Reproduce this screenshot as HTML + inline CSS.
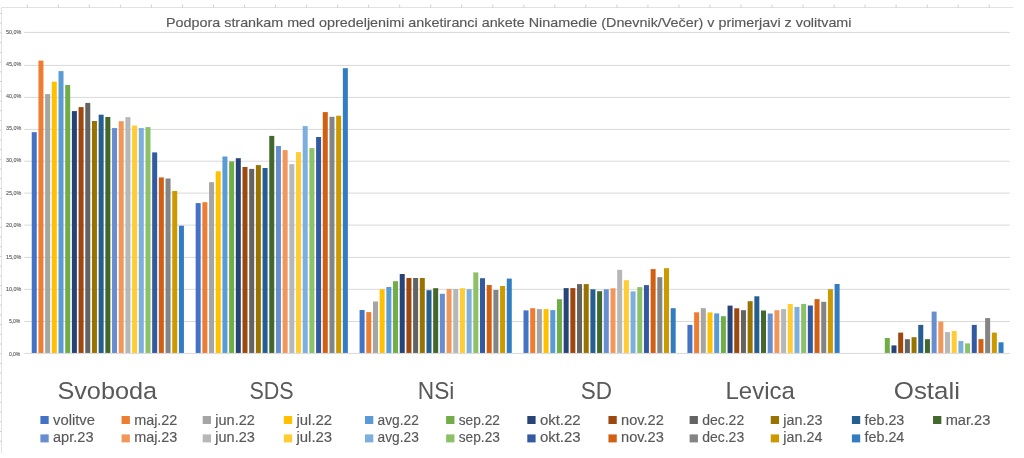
<!DOCTYPE html><html><head><meta charset="utf-8"><title>Podpora strankam</title><style>html,body{margin:0;padding:0;background:#fff;width:1024px;height:458px;overflow:hidden}svg{display:block;will-change:transform}text{font-family:"Liberation Sans",Arial,sans-serif}</style></head><body>
<svg width="1024" height="458" viewBox="0 0 1024 458">
<rect width="1024" height="458" fill="#fff"/>
<path d="M1.5 453V7.5H1013" fill="none" stroke="#e2e2e2" stroke-width="1"/>
<path d="M27.3 4.6V7.5M58.3 4.6V7.5M89.4 4.6V7.5M120.4 4.6V7.5M151.4 4.6V7.5M182.5 4.6V7.5M213.5 4.6V7.5M244.5 4.6V7.5M275.5 4.6V7.5M306.6 4.6V7.5M337.6 4.6V7.5M368.6 4.6V7.5M399.7 4.6V7.5M430.7 4.6V7.5M461.7 4.6V7.5M492.8 4.6V7.5M523.8 4.6V7.5M554.8 4.6V7.5M585.8 4.6V7.5M616.9 4.6V7.5M647.9 4.6V7.5M678.9 4.6V7.5M710.0 4.6V7.5M741.0 4.6V7.5M772.0 4.6V7.5M803.0 4.6V7.5M834.1 4.6V7.5M865.1 4.6V7.5M896.1 4.6V7.5M927.2 4.6V7.5M958.2 4.6V7.5M989.2 4.6V7.5" fill="none" stroke="#c4c4c4" stroke-width="0.8"/>
<path d="M0 13.5H1.5M0 23.2H1.5M0 32.9H1.5M0 42.7H1.5M0 52.4H1.5M0 62.1H1.5M0 71.8H1.5M0 81.5H1.5M0 91.3H1.5M0 101.0H1.5M0 110.7H1.5M0 120.4H1.5M0 130.1H1.5M0 139.9H1.5M0 149.6H1.5M0 159.3H1.5M0 169.0H1.5M0 178.7H1.5M0 188.5H1.5M0 198.2H1.5M0 207.9H1.5M0 217.6H1.5M0 227.3H1.5M0 237.1H1.5M0 246.8H1.5M0 256.5H1.5M0 266.2H1.5M0 275.9H1.5M0 285.7H1.5M0 295.4H1.5M0 305.1H1.5M0 314.8H1.5M0 324.5H1.5M0 334.3H1.5M0 344.0H1.5M0 353.7H1.5M0 363.4H1.5M0 373.1H1.5M0 382.9H1.5M0 392.6H1.5M0 402.3H1.5M0 412.0H1.5M0 421.7H1.5M0 431.5H1.5M0 441.2H1.5" fill="none" stroke="#c8c8c8" stroke-width="0.8"/>
<rect x="24.2" y="352.90" width="985.6" height="1" fill="#d9d9d9"/>
<rect x="24.2" y="321.00" width="985.6" height="1" fill="#d9d9d9"/>
<rect x="24.2" y="288.80" width="985.6" height="1" fill="#d9d9d9"/>
<rect x="24.2" y="256.90" width="985.6" height="1" fill="#d9d9d9"/>
<rect x="24.2" y="224.60" width="985.6" height="1" fill="#d9d9d9"/>
<rect x="24.2" y="192.60" width="985.6" height="1" fill="#d9d9d9"/>
<rect x="24.2" y="160.70" width="985.6" height="1" fill="#d9d9d9"/>
<rect x="24.2" y="128.90" width="985.6" height="1" fill="#d9d9d9"/>
<rect x="24.2" y="96.90" width="985.6" height="1" fill="#d9d9d9"/>
<rect x="24.2" y="64.90" width="985.6" height="1" fill="#d9d9d9"/>
<rect x="24.2" y="31.90" width="985.6" height="1" fill="#d9d9d9"/>
<text x="20.3" y="355.50" font-size="6.2" fill="#595959" stroke="#595959" stroke-width="0.12" text-anchor="end" textLength="11.4" lengthAdjust="spacingAndGlyphs">0,0%</text>
<text x="20.3" y="323.30" font-size="6.2" fill="#595959" stroke="#595959" stroke-width="0.12" text-anchor="end" textLength="11.4" lengthAdjust="spacingAndGlyphs">5,0%</text>
<text x="21.2" y="291.10" font-size="6.2" fill="#595959" stroke="#595959" stroke-width="0.12" text-anchor="end" textLength="15.3" lengthAdjust="spacingAndGlyphs">10,0%</text>
<text x="21.2" y="258.90" font-size="6.2" fill="#595959" stroke="#595959" stroke-width="0.12" text-anchor="end" textLength="15.3" lengthAdjust="spacingAndGlyphs">15,0%</text>
<text x="21.2" y="226.70" font-size="6.2" fill="#595959" stroke="#595959" stroke-width="0.12" text-anchor="end" textLength="15.3" lengthAdjust="spacingAndGlyphs">20,0%</text>
<text x="21.2" y="194.50" font-size="6.2" fill="#595959" stroke="#595959" stroke-width="0.12" text-anchor="end" textLength="15.3" lengthAdjust="spacingAndGlyphs">25,0%</text>
<text x="21.2" y="162.30" font-size="6.2" fill="#595959" stroke="#595959" stroke-width="0.12" text-anchor="end" textLength="15.3" lengthAdjust="spacingAndGlyphs">30,0%</text>
<text x="21.2" y="130.10" font-size="6.2" fill="#595959" stroke="#595959" stroke-width="0.12" text-anchor="end" textLength="15.3" lengthAdjust="spacingAndGlyphs">35,0%</text>
<text x="21.2" y="97.90" font-size="6.2" fill="#595959" stroke="#595959" stroke-width="0.12" text-anchor="end" textLength="15.3" lengthAdjust="spacingAndGlyphs">40,0%</text>
<text x="21.2" y="65.70" font-size="6.2" fill="#595959" stroke="#595959" stroke-width="0.12" text-anchor="end" textLength="15.3" lengthAdjust="spacingAndGlyphs">45,0%</text>
<text x="21.2" y="33.50" font-size="6.2" fill="#595959" stroke="#595959" stroke-width="0.12" text-anchor="end" textLength="15.3" lengthAdjust="spacingAndGlyphs">50,0%</text>
<rect x="31.75" y="132.20" width="5.00" height="220.75" fill="#4472C4"/>
<rect x="38.44" y="60.60" width="5.00" height="292.35" fill="#ED7D31"/>
<rect x="45.13" y="94.10" width="5.00" height="258.85" fill="#A5A5A5"/>
<rect x="51.82" y="81.70" width="5.00" height="271.25" fill="#FFC000"/>
<rect x="58.51" y="71.10" width="5.00" height="281.85" fill="#5B9BD5"/>
<rect x="65.20" y="85.00" width="5.00" height="267.95" fill="#70AD47"/>
<rect x="71.89" y="111.10" width="5.00" height="241.85" fill="#264478"/>
<rect x="78.58" y="107.10" width="5.00" height="245.85" fill="#9E480E"/>
<rect x="85.27" y="102.90" width="5.00" height="250.05" fill="#636363"/>
<rect x="91.96" y="121.00" width="5.00" height="231.95" fill="#997300"/>
<rect x="98.65" y="114.70" width="5.00" height="238.25" fill="#255E91"/>
<rect x="105.34" y="117.00" width="5.00" height="235.95" fill="#43682B"/>
<rect x="112.03" y="128.05" width="5.00" height="224.90" fill="#698ED0"/>
<rect x="118.72" y="121.20" width="5.00" height="231.75" fill="#F1975A"/>
<rect x="125.41" y="117.10" width="5.00" height="235.85" fill="#B7B7B7"/>
<rect x="132.10" y="125.50" width="5.00" height="227.45" fill="#FFCD33"/>
<rect x="138.79" y="128.05" width="5.00" height="224.90" fill="#7CAFDD"/>
<rect x="145.48" y="127.10" width="5.00" height="225.85" fill="#8CC168"/>
<rect x="152.17" y="152.40" width="5.00" height="200.55" fill="#335AA1"/>
<rect x="158.86" y="177.40" width="5.00" height="175.55" fill="#D26012"/>
<rect x="165.55" y="178.50" width="5.00" height="174.45" fill="#848484"/>
<rect x="172.24" y="191.00" width="5.00" height="161.95" fill="#CC9A00"/>
<rect x="178.93" y="225.70" width="5.00" height="127.25" fill="#327DC2"/>
<rect x="195.67" y="203.10" width="5.00" height="149.85" fill="#4472C4"/>
<rect x="202.36" y="202.20" width="5.00" height="150.75" fill="#ED7D31"/>
<rect x="209.05" y="182.20" width="5.00" height="170.75" fill="#A5A5A5"/>
<rect x="215.74" y="171.30" width="5.00" height="181.65" fill="#FFC000"/>
<rect x="222.43" y="156.50" width="5.00" height="196.45" fill="#5B9BD5"/>
<rect x="229.12" y="161.40" width="5.00" height="191.55" fill="#70AD47"/>
<rect x="235.81" y="158.20" width="5.00" height="194.75" fill="#264478"/>
<rect x="242.50" y="167.00" width="5.00" height="185.95" fill="#9E480E"/>
<rect x="249.19" y="168.90" width="5.00" height="184.05" fill="#636363"/>
<rect x="255.88" y="165.10" width="5.00" height="187.85" fill="#997300"/>
<rect x="262.57" y="168.00" width="5.00" height="184.95" fill="#255E91"/>
<rect x="269.26" y="135.90" width="5.00" height="217.05" fill="#43682B"/>
<rect x="275.95" y="146.00" width="5.00" height="206.95" fill="#698ED0"/>
<rect x="282.64" y="150.10" width="5.00" height="202.85" fill="#F1975A"/>
<rect x="289.33" y="164.20" width="5.00" height="188.75" fill="#B7B7B7"/>
<rect x="296.02" y="152.10" width="5.00" height="200.85" fill="#FFCD33"/>
<rect x="302.71" y="126.10" width="5.00" height="226.85" fill="#7CAFDD"/>
<rect x="309.40" y="148.10" width="5.00" height="204.85" fill="#8CC168"/>
<rect x="316.09" y="137.00" width="5.00" height="215.95" fill="#335AA1"/>
<rect x="322.78" y="112.10" width="5.00" height="240.85" fill="#D26012"/>
<rect x="329.47" y="116.80" width="5.00" height="236.15" fill="#848484"/>
<rect x="336.16" y="115.70" width="5.00" height="237.25" fill="#CC9A00"/>
<rect x="342.85" y="68.20" width="5.00" height="284.75" fill="#327DC2"/>
<rect x="359.59" y="310.00" width="5.00" height="42.95" fill="#4472C4"/>
<rect x="366.28" y="312.10" width="5.00" height="40.85" fill="#ED7D31"/>
<rect x="372.97" y="301.50" width="5.00" height="51.45" fill="#A5A5A5"/>
<rect x="379.66" y="289.20" width="5.00" height="63.75" fill="#FFC000"/>
<rect x="386.35" y="287.00" width="5.00" height="65.95" fill="#5B9BD5"/>
<rect x="393.04" y="281.20" width="5.00" height="71.75" fill="#70AD47"/>
<rect x="399.73" y="274.00" width="5.00" height="78.95" fill="#264478"/>
<rect x="406.42" y="278.00" width="5.00" height="74.95" fill="#9E480E"/>
<rect x="413.11" y="278.00" width="5.00" height="74.95" fill="#636363"/>
<rect x="419.80" y="278.00" width="5.00" height="74.95" fill="#997300"/>
<rect x="426.49" y="290.20" width="5.00" height="62.75" fill="#255E91"/>
<rect x="433.18" y="288.20" width="5.00" height="64.75" fill="#43682B"/>
<rect x="439.87" y="293.80" width="5.00" height="59.15" fill="#698ED0"/>
<rect x="446.56" y="289.00" width="5.00" height="63.95" fill="#F1975A"/>
<rect x="453.25" y="289.00" width="5.00" height="63.95" fill="#B7B7B7"/>
<rect x="459.94" y="288.20" width="5.00" height="64.75" fill="#FFCD33"/>
<rect x="466.63" y="289.20" width="5.00" height="63.75" fill="#7CAFDD"/>
<rect x="473.32" y="272.40" width="5.00" height="80.55" fill="#8CC168"/>
<rect x="480.01" y="278.20" width="5.00" height="74.75" fill="#335AA1"/>
<rect x="486.70" y="285.00" width="5.00" height="67.95" fill="#D26012"/>
<rect x="493.39" y="290.00" width="5.00" height="62.95" fill="#848484"/>
<rect x="500.08" y="286.00" width="5.00" height="66.95" fill="#CC9A00"/>
<rect x="506.77" y="278.60" width="5.00" height="74.35" fill="#327DC2"/>
<rect x="523.51" y="310.40" width="5.00" height="42.55" fill="#4472C4"/>
<rect x="530.20" y="308.20" width="5.00" height="44.75" fill="#ED7D31"/>
<rect x="536.89" y="309.10" width="5.00" height="43.85" fill="#A5A5A5"/>
<rect x="543.58" y="309.10" width="5.00" height="43.85" fill="#FFC000"/>
<rect x="550.27" y="310.10" width="5.00" height="42.85" fill="#5B9BD5"/>
<rect x="556.96" y="299.20" width="5.00" height="53.75" fill="#70AD47"/>
<rect x="563.65" y="288.10" width="5.00" height="64.85" fill="#264478"/>
<rect x="570.34" y="288.10" width="5.00" height="64.85" fill="#9E480E"/>
<rect x="577.03" y="284.10" width="5.00" height="68.85" fill="#636363"/>
<rect x="583.72" y="284.10" width="5.00" height="68.85" fill="#997300"/>
<rect x="590.41" y="289.30" width="5.00" height="63.65" fill="#255E91"/>
<rect x="597.10" y="291.20" width="5.00" height="61.75" fill="#43682B"/>
<rect x="603.79" y="289.30" width="5.00" height="63.65" fill="#698ED0"/>
<rect x="610.48" y="288.30" width="5.00" height="64.65" fill="#F1975A"/>
<rect x="617.17" y="269.80" width="5.00" height="83.15" fill="#B7B7B7"/>
<rect x="623.86" y="280.20" width="5.00" height="72.75" fill="#FFCD33"/>
<rect x="630.55" y="291.40" width="5.00" height="61.55" fill="#7CAFDD"/>
<rect x="637.24" y="287.10" width="5.00" height="65.85" fill="#8CC168"/>
<rect x="643.93" y="285.10" width="5.00" height="67.85" fill="#335AA1"/>
<rect x="650.62" y="269.10" width="5.00" height="83.85" fill="#D26012"/>
<rect x="657.31" y="277.20" width="5.00" height="75.75" fill="#848484"/>
<rect x="664.00" y="268.20" width="5.00" height="84.75" fill="#CC9A00"/>
<rect x="670.69" y="308.20" width="5.00" height="44.75" fill="#327DC2"/>
<rect x="687.43" y="324.90" width="5.00" height="28.05" fill="#4472C4"/>
<rect x="694.12" y="312.30" width="5.00" height="40.65" fill="#ED7D31"/>
<rect x="700.81" y="308.20" width="5.00" height="44.75" fill="#A5A5A5"/>
<rect x="707.50" y="312.40" width="5.00" height="40.55" fill="#FFC000"/>
<rect x="714.19" y="313.40" width="5.00" height="39.55" fill="#5B9BD5"/>
<rect x="720.88" y="316.20" width="5.00" height="36.75" fill="#70AD47"/>
<rect x="727.57" y="305.60" width="5.00" height="47.35" fill="#264478"/>
<rect x="734.26" y="308.30" width="5.00" height="44.65" fill="#9E480E"/>
<rect x="740.95" y="310.20" width="5.00" height="42.75" fill="#636363"/>
<rect x="747.64" y="301.20" width="5.00" height="51.75" fill="#997300"/>
<rect x="754.33" y="296.30" width="5.00" height="56.65" fill="#255E91"/>
<rect x="761.02" y="310.50" width="5.00" height="42.45" fill="#43682B"/>
<rect x="767.71" y="313.50" width="5.00" height="39.45" fill="#698ED0"/>
<rect x="774.40" y="310.20" width="5.00" height="42.75" fill="#F1975A"/>
<rect x="781.09" y="309.10" width="5.00" height="43.85" fill="#B7B7B7"/>
<rect x="787.78" y="304.00" width="5.00" height="48.95" fill="#FFCD33"/>
<rect x="794.47" y="307.00" width="5.00" height="45.95" fill="#7CAFDD"/>
<rect x="801.16" y="303.90" width="5.00" height="49.05" fill="#8CC168"/>
<rect x="807.85" y="305.50" width="5.00" height="47.45" fill="#335AA1"/>
<rect x="814.54" y="299.10" width="5.00" height="53.85" fill="#D26012"/>
<rect x="821.23" y="301.80" width="5.00" height="51.15" fill="#848484"/>
<rect x="827.92" y="289.20" width="5.00" height="63.75" fill="#CC9A00"/>
<rect x="834.61" y="284.00" width="5.00" height="68.95" fill="#327DC2"/>
<rect x="884.80" y="338.00" width="5.00" height="14.95" fill="#70AD47"/>
<rect x="891.49" y="345.40" width="5.00" height="7.55" fill="#264478"/>
<rect x="898.18" y="332.60" width="5.00" height="20.35" fill="#9E480E"/>
<rect x="904.87" y="339.20" width="5.00" height="13.75" fill="#636363"/>
<rect x="911.56" y="337.20" width="5.00" height="15.75" fill="#997300"/>
<rect x="918.25" y="324.90" width="5.00" height="28.05" fill="#255E91"/>
<rect x="924.94" y="339.20" width="5.00" height="13.75" fill="#43682B"/>
<rect x="931.63" y="311.60" width="5.00" height="41.35" fill="#698ED0"/>
<rect x="938.32" y="321.70" width="5.00" height="31.25" fill="#F1975A"/>
<rect x="945.01" y="332.10" width="5.00" height="20.85" fill="#B7B7B7"/>
<rect x="951.70" y="331.00" width="5.00" height="21.95" fill="#FFCD33"/>
<rect x="958.39" y="341.00" width="5.00" height="11.95" fill="#7CAFDD"/>
<rect x="965.08" y="343.40" width="5.00" height="9.55" fill="#8CC168"/>
<rect x="971.77" y="324.90" width="5.00" height="28.05" fill="#335AA1"/>
<rect x="978.46" y="339.10" width="5.00" height="13.85" fill="#D26012"/>
<rect x="985.15" y="318.10" width="5.00" height="34.85" fill="#848484"/>
<rect x="991.84" y="332.60" width="5.00" height="20.35" fill="#CC9A00"/>
<rect x="998.53" y="342.30" width="5.00" height="10.65" fill="#327DC2"/>
<text x="166" y="27.1" font-size="12.6" fill="#595959" stroke="#595959" stroke-width="0.15" textLength="685.5" lengthAdjust="spacingAndGlyphs">Podpora strankam med opredeljenimi anketiranci ankete Ninamedie (Dnevnik/Večer) v primerjavi z volitvami</text>
<text x="57.4" y="399" font-size="23.7" fill="#595959" textLength="99.7" lengthAdjust="spacingAndGlyphs">Svoboda</text>
<text x="249.5" y="399" font-size="23.7" fill="#595959" textLength="44.2" lengthAdjust="spacingAndGlyphs">SDS</text>
<text x="417.8" y="399" font-size="23.7" fill="#595959" textLength="36.6" lengthAdjust="spacingAndGlyphs">NSi</text>
<text x="580.8" y="399" font-size="23.7" fill="#595959" textLength="31.2" lengthAdjust="spacingAndGlyphs">SD</text>
<text x="725.5" y="399" font-size="23.7" fill="#595959" textLength="69.4" lengthAdjust="spacingAndGlyphs">Levica</text>
<text x="893.8" y="399" font-size="23.7" fill="#595959" textLength="66.1" lengthAdjust="spacingAndGlyphs">Ostali</text>
<rect x="40.40" y="416.00" width="8.3" height="8" fill="#4472C4"/>
<text x="53.00" y="424.50" font-size="13.8" fill="#595959" stroke="#595959" stroke-width="0.15" textLength="42.0" lengthAdjust="spacingAndGlyphs">volitve</text>
<rect x="121.55" y="416.00" width="8.3" height="8" fill="#ED7D31"/>
<text x="134.15" y="424.50" font-size="13.8" fill="#595959" stroke="#595959" stroke-width="0.15" textLength="43.2" lengthAdjust="spacingAndGlyphs">maj.22</text>
<rect x="202.70" y="416.00" width="8.3" height="8" fill="#A5A5A5"/>
<text x="215.30" y="424.50" font-size="13.8" fill="#595959" stroke="#595959" stroke-width="0.15" textLength="39.5" lengthAdjust="spacingAndGlyphs">jun.22</text>
<rect x="283.85" y="416.00" width="8.3" height="8" fill="#FFC000"/>
<text x="296.45" y="424.50" font-size="13.8" fill="#595959" stroke="#595959" stroke-width="0.15" textLength="35.7" lengthAdjust="spacingAndGlyphs">jul.22</text>
<rect x="365.00" y="416.00" width="8.3" height="8" fill="#5B9BD5"/>
<text x="377.60" y="424.50" font-size="13.8" fill="#595959" stroke="#595959" stroke-width="0.15" textLength="41.2" lengthAdjust="spacingAndGlyphs">avg.22</text>
<rect x="446.15" y="416.00" width="8.3" height="8" fill="#70AD47"/>
<text x="458.75" y="424.50" font-size="13.8" fill="#595959" stroke="#595959" stroke-width="0.15" textLength="41.2" lengthAdjust="spacingAndGlyphs">sep.22</text>
<rect x="527.30" y="416.00" width="8.3" height="8" fill="#264478"/>
<text x="539.90" y="424.50" font-size="13.8" fill="#595959" stroke="#595959" stroke-width="0.15" textLength="40.8" lengthAdjust="spacingAndGlyphs">okt.22</text>
<rect x="608.45" y="416.00" width="8.3" height="8" fill="#9E480E"/>
<text x="621.05" y="424.50" font-size="13.8" fill="#595959" stroke="#595959" stroke-width="0.15" textLength="42.8" lengthAdjust="spacingAndGlyphs">nov.22</text>
<rect x="689.60" y="416.00" width="8.3" height="8" fill="#636363"/>
<text x="702.20" y="424.50" font-size="13.8" fill="#595959" stroke="#595959" stroke-width="0.15" textLength="42.0" lengthAdjust="spacingAndGlyphs">dec.22</text>
<rect x="770.75" y="416.00" width="8.3" height="8" fill="#997300"/>
<text x="783.35" y="424.50" font-size="13.8" fill="#595959" stroke="#595959" stroke-width="0.15" textLength="39.0" lengthAdjust="spacingAndGlyphs">jan.23</text>
<rect x="851.90" y="416.00" width="8.3" height="8" fill="#255E91"/>
<text x="864.50" y="424.50" font-size="13.8" fill="#595959" stroke="#595959" stroke-width="0.15" textLength="39.8" lengthAdjust="spacingAndGlyphs">feb.23</text>
<rect x="933.05" y="416.00" width="8.3" height="8" fill="#43682B"/>
<text x="945.65" y="424.50" font-size="13.8" fill="#595959" stroke="#595959" stroke-width="0.15" textLength="44.7" lengthAdjust="spacingAndGlyphs">mar.23</text>
<rect x="40.40" y="434.40" width="8.3" height="8" fill="#698ED0"/>
<text x="53.00" y="442.20" font-size="13.8" fill="#595959" stroke="#595959" stroke-width="0.15" textLength="40.5" lengthAdjust="spacingAndGlyphs">apr.23</text>
<rect x="121.55" y="434.40" width="8.3" height="8" fill="#F1975A"/>
<text x="134.15" y="442.20" font-size="13.8" fill="#595959" stroke="#595959" stroke-width="0.15" textLength="43.2" lengthAdjust="spacingAndGlyphs">maj.23</text>
<rect x="202.70" y="434.40" width="8.3" height="8" fill="#B7B7B7"/>
<text x="215.30" y="442.20" font-size="13.8" fill="#595959" stroke="#595959" stroke-width="0.15" textLength="39.5" lengthAdjust="spacingAndGlyphs">jun.23</text>
<rect x="283.85" y="434.40" width="8.3" height="8" fill="#FFCD33"/>
<text x="296.45" y="442.20" font-size="13.8" fill="#595959" stroke="#595959" stroke-width="0.15" textLength="35.7" lengthAdjust="spacingAndGlyphs">jul.23</text>
<rect x="365.00" y="434.40" width="8.3" height="8" fill="#7CAFDD"/>
<text x="377.60" y="442.20" font-size="13.8" fill="#595959" stroke="#595959" stroke-width="0.15" textLength="41.2" lengthAdjust="spacingAndGlyphs">avg.23</text>
<rect x="446.15" y="434.40" width="8.3" height="8" fill="#8CC168"/>
<text x="458.75" y="442.20" font-size="13.8" fill="#595959" stroke="#595959" stroke-width="0.15" textLength="41.2" lengthAdjust="spacingAndGlyphs">sep.23</text>
<rect x="527.30" y="434.40" width="8.3" height="8" fill="#335AA1"/>
<text x="539.90" y="442.20" font-size="13.8" fill="#595959" stroke="#595959" stroke-width="0.15" textLength="40.8" lengthAdjust="spacingAndGlyphs">okt.23</text>
<rect x="608.45" y="434.40" width="8.3" height="8" fill="#D26012"/>
<text x="621.05" y="442.20" font-size="13.8" fill="#595959" stroke="#595959" stroke-width="0.15" textLength="42.8" lengthAdjust="spacingAndGlyphs">nov.23</text>
<rect x="689.60" y="434.40" width="8.3" height="8" fill="#848484"/>
<text x="702.20" y="442.20" font-size="13.8" fill="#595959" stroke="#595959" stroke-width="0.15" textLength="42.0" lengthAdjust="spacingAndGlyphs">dec.23</text>
<rect x="770.75" y="434.40" width="8.3" height="8" fill="#CC9A00"/>
<text x="783.35" y="442.20" font-size="13.8" fill="#595959" stroke="#595959" stroke-width="0.15" textLength="39.0" lengthAdjust="spacingAndGlyphs">jan.24</text>
<rect x="851.90" y="434.40" width="8.3" height="8" fill="#327DC2"/>
<text x="864.50" y="442.20" font-size="13.8" fill="#595959" stroke="#595959" stroke-width="0.15" textLength="39.8" lengthAdjust="spacingAndGlyphs">feb.24</text>
</svg></body></html>
